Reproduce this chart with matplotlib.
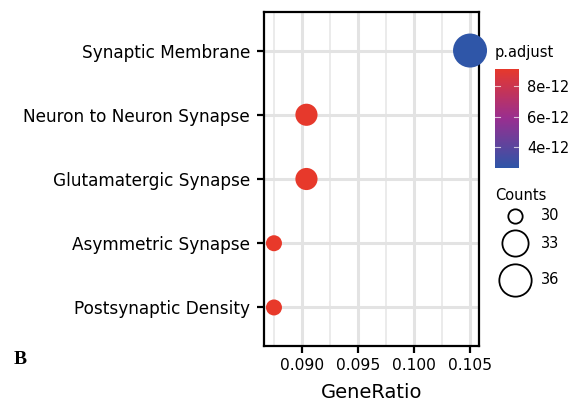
import numpy as np
import matplotlib.pyplot as plt
from matplotlib.colors import LinearSegmentedColormap, Normalize
from matplotlib.ticker import MultipleLocator

terms = ['Synaptic Membrane', 'Neuron to Neuron Synapse', 'Glutamatergic Synapse',
         'Asymmetric Synapse', 'Postsynaptic Density']
gene_ratio = [0.1050, 0.0904, 0.0904, 0.0875, 0.0875]
counts = [36, 31, 31, 30, 30]
p_adjust = [2.7e-12, 9.0e-12, 9.05e-12, 9.1e-12, 9.1e-12]
legend_counts = [30, 33, 36]


def marker_size(c):
    # diameter in px -> scatter area in pt^2
    d = 16 + 18 * ((np.asarray(c) - 30) / 6.0) ** 0.6
    return (d * 0.72) ** 2


cmap = LinearSegmentedColormap.from_list('padj', ['#2E56A8', '#9A2F90', '#E8392A'])
norm = Normalize(vmin=2.65e-12, vmax=9.1e-12)

fig = plt.figure(figsize=(5.78, 4.04), dpi=100)
W, H = 578, 404
ax = fig.add_axes([264 / W, (H - 346) / H, 215 / W, 334 / H])

ypos = np.arange(len(terms), 0, -1)
ax.scatter(gene_ratio, ypos, s=marker_size(counts), c=p_adjust, cmap=cmap, norm=norm,
           edgecolors='none', zorder=3, clip_on=False)

ax.set_xlim(0.08661, 0.1058)
ax.set_ylim(0.4, len(terms) + 0.6)
ax.set_yticks(ypos)
ax.set_yticklabels(terms, fontsize=12.2)
ax.xaxis.set_minor_locator(MultipleLocator(0.0025))
ax.set_xticks([0.090, 0.095, 0.100, 0.105])
ax.set_xticklabels(['0.090', '0.095', '0.100', '0.105'], fontsize=11.2)
ax.tick_params(axis='both', which='major', length=5, width=1.6, color='black')
ax.tick_params(axis='x', which='major', pad=4)
ax.tick_params(axis='y', which='major', pad=5)
ax.tick_params(axis='x', which='minor', length=0)
ax.grid(True, which='major', color='#E3E3E3', lw=2.2, zorder=0)
ax.grid(True, which='minor', axis='x', color='#E9E9E9', lw=1.3, zorder=0)
ax.set_axisbelow(True)
for sp in ax.spines.values():
    sp.set_linewidth(1.6)
ax.set_xlabel('GeneRatio', fontsize=14, labelpad=7)

# colorbar
cax = fig.add_axes([495 / W, (H - 168) / H, 24 / W, 99 / H])
grad = np.linspace(norm.vmin, norm.vmax, 256).reshape(-1, 1)
cax.imshow(grad, aspect='auto', origin='lower', cmap=cmap, norm=norm,
           extent=[0, 1, norm.vmin, norm.vmax])
cax.set_xticks([])
cax.yaxis.tick_right()
cb_ticks = [4e-12, 6e-12, 8e-12]
cax.set_yticks(cb_ticks)
cax.set_yticklabels(['4e-12', '6e-12', '8e-12'], fontsize=10.5)
cax.tick_params(axis='y', length=0, pad=6)
for t in cb_ticks:
    cax.plot([0, 0.2], [t, t], color='white', lw=0.8, alpha=0.7)
    cax.plot([0.8, 1], [t, t], color='white', lw=0.8, alpha=0.7)
cax.set_xlim(0, 1)
cax.set_ylim(norm.vmin, norm.vmax)
for sp in cax.spines.values():
    sp.set_visible(False)
fig.text(495 / W, 1 - 53 / H, 'p.adjust', fontsize=10.5, va='center', ha='left')

# size legend
fig.text(495 / W, 1 - 196 / H, 'Counts', fontsize=10.5, va='center', ha='left')
leg_y = [216, 243, 280]
for c, yy in zip(legend_counts, leg_y):
    fig.add_artist(plt.Line2D([515 / W], [1 - yy / H], marker='o', linestyle='none',
                              markersize=np.sqrt(marker_size(c)) - 1.2,
                              markerfacecolor='none', markeredgecolor='black',
                              markeredgewidth=1.3))
    fig.text(541 / W, 1 - yy / H, str(c), fontsize=10.5, va='center', ha='left')

fig.text(14 / W, 1 - 360 / H, 'B', fontsize=14, fontweight='bold',
         family='Liberation Serif', va='center', ha='left')

fig.savefig('out.png', dpi=100)
